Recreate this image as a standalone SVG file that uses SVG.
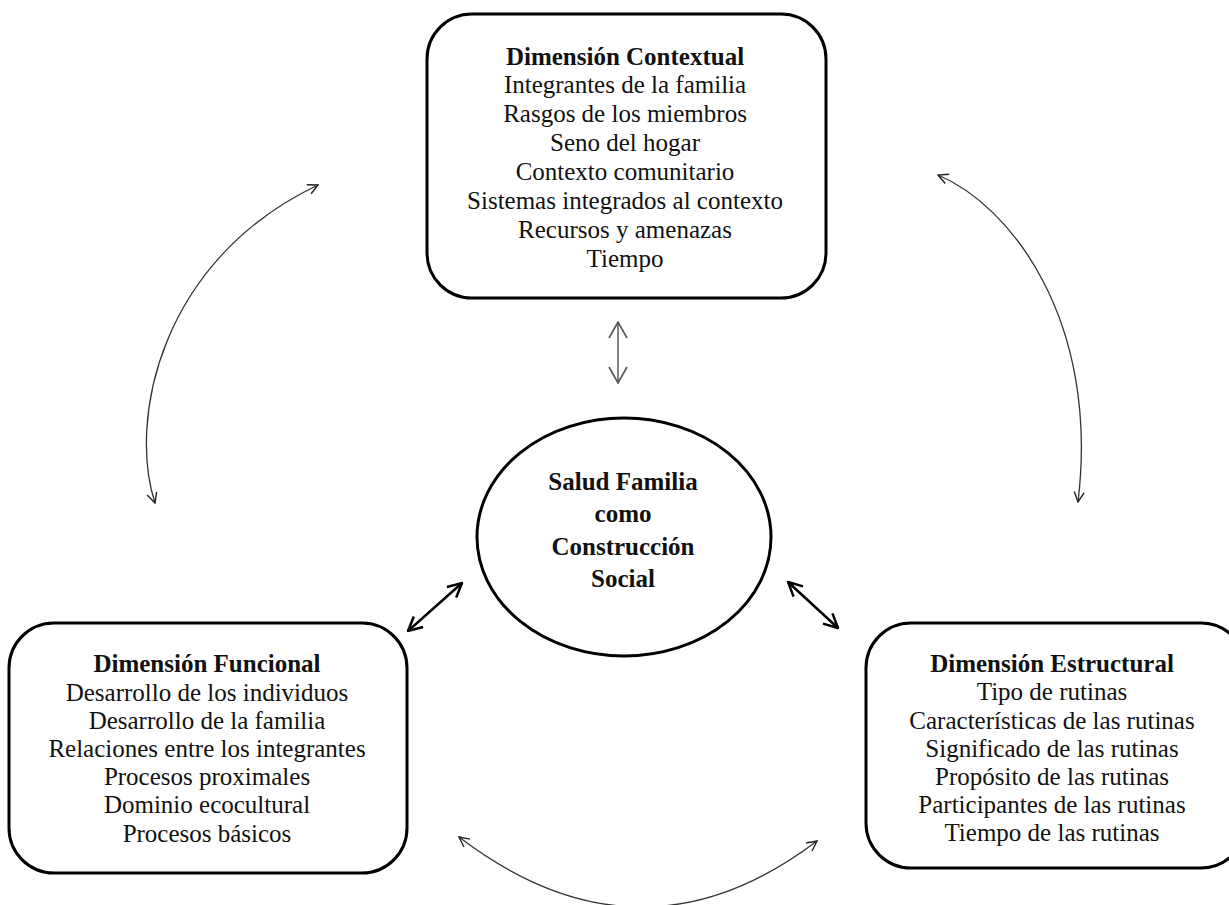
<svg xmlns="http://www.w3.org/2000/svg" width="1229" height="905" viewBox="0 0 1229 905">
<style>
.box{fill:#fff;stroke:#000;stroke-width:3}
.t{font-family:"Liberation Serif","Times New Roman",serif;font-size:25px;fill:#111;text-anchor:middle}
.b{font-weight:bold}
.thin{fill:none;stroke:#333;stroke-width:1.3}
.thick{fill:none;stroke:#000;stroke-width:2.5}
.mid{fill:none;stroke:#777;stroke-width:1.8}
</style>
<defs>
<marker id="ah" viewBox="0 0 12 12" refX="11" refY="6" markerWidth="12" markerHeight="12" markerUnits="userSpaceOnUse" orient="auto-start-reverse">
<path d="M1,1 L11,6 L1,11" fill="none" stroke="#222" stroke-width="1.4"/>
</marker>
<marker id="ahk" viewBox="0 0 16 16" refX="15" refY="8" markerWidth="16" markerHeight="16" markerUnits="userSpaceOnUse" orient="auto-start-reverse">
<path d="M1,1 L15,8 L1,15" fill="none" stroke="#000" stroke-width="2.5"/>
</marker>
<marker id="ahm" viewBox="0 0 18 20" refX="17" refY="10" markerWidth="18" markerHeight="20" markerUnits="userSpaceOnUse" orient="auto-start-reverse">
<path d="M1,1 L17,10 L1,19" fill="none" stroke="#555" stroke-width="1.6"/>
</marker>
</defs>
<rect width="1229" height="905" fill="#fff"/>
<g id="connectors">
<path class="thin" d="M155,503 C128,420 160,260 318,185" marker-start="url(#ah)" marker-end="url(#ah)"/>
<path class="thin" d="M938,175 C1010,205 1100,320 1078,502" marker-start="url(#ah)" marker-end="url(#ah)"/>
<path class="thin" d="M459,837 Q640,975 817,841" marker-start="url(#ah)" marker-end="url(#ah)"/>
<path class="mid" d="M618,322 L618,383" marker-start="url(#ahm)" marker-end="url(#ahm)"/>
<path class="thick" d="M408,631 L462,583" marker-start="url(#ahk)" marker-end="url(#ahk)"/>
<path class="thick" d="M788,582 L838,628" marker-start="url(#ahk)" marker-end="url(#ahk)"/>
</g>
<g id="contextual">
<rect class="box" x="427" y="14" width="399" height="284" rx="45" ry="45"/>
<text class="t b" x="625" y="65">Dimensión Contextual</text>
<text class="t" x="625" y="93">Integrantes de la familia</text>
<text class="t" x="625" y="122">Rasgos de los miembros</text>
<text class="t" x="625" y="151">Seno del hogar</text>
<text class="t" x="625" y="180">Contexto comunitario</text>
<text class="t" x="625" y="209">Sistemas integrados al contexto</text>
<text class="t" x="625" y="238">Recursos y amenazas</text>
<text class="t" x="625" y="267">Tiempo</text>
</g>
<g id="centro">
<ellipse class="box" cx="624" cy="537" rx="147" ry="119"/>
<text class="t b" x="623" y="490">Salud Familia</text>
<text class="t b" x="623" y="522">como</text>
<text class="t b" x="623" y="555">Construcción</text>
<text class="t b" x="623" y="587">Social</text>
</g>
<g id="funcional">
<rect class="box" x="9" y="623" width="398" height="250" rx="45" ry="45"/>
<text class="t b" x="207" y="672">Dimensión Funcional</text>
<text class="t" x="207" y="701">Desarrollo de los individuos</text>
<text class="t" x="207" y="729">Desarrollo de la familia</text>
<text class="t" x="207" y="757">Relaciones entre los integrantes</text>
<text class="t" x="207" y="785">Procesos proximales</text>
<text class="t" x="207" y="813">Dominio ecocultural</text>
<text class="t" x="207" y="842">Procesos básicos</text>
</g>
<g id="estructural">
<rect class="box" x="866" y="623" width="380" height="245" rx="45" ry="45"/>
<text class="t b" x="1052" y="672">Dimensión Estructural</text>
<text class="t" x="1052" y="700">Tipo de rutinas</text>
<text class="t" x="1052" y="729">Características de las rutinas</text>
<text class="t" x="1052" y="757">Significado de las rutinas</text>
<text class="t" x="1052" y="785">Propósito de las rutinas</text>
<text class="t" x="1052" y="813">Participantes de las rutinas</text>
<text class="t" x="1052" y="841">Tiempo de las rutinas</text>
</g>
</svg>
